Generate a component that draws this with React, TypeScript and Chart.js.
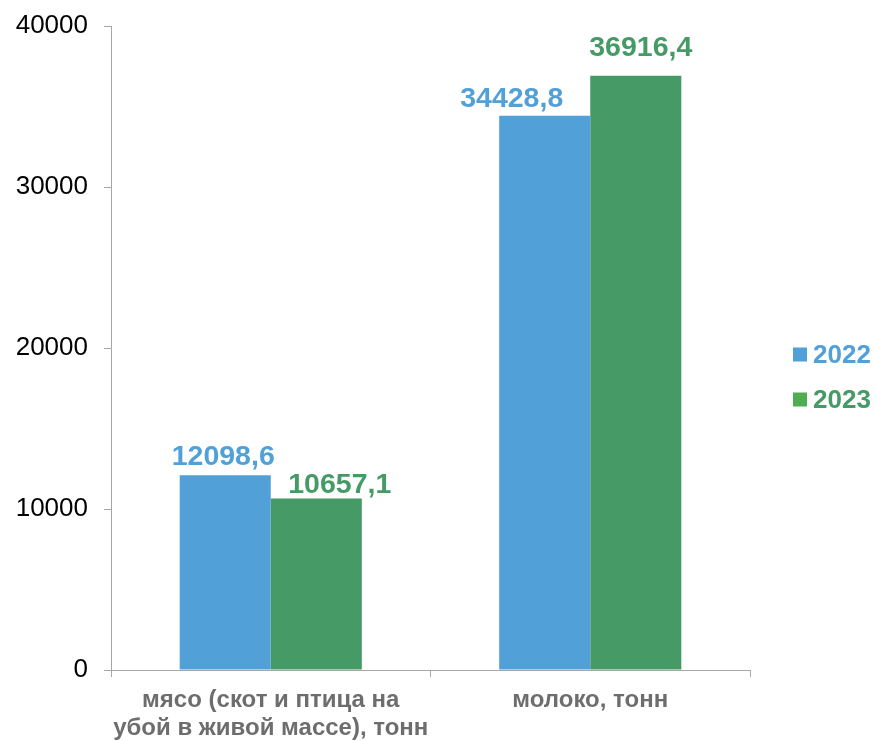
import React, { useEffect, useRef } from "react";
import { Chart, registerables } from "chart.js";

Chart.register(...registerables);

const categories: string[][] = [
  ["мясо (скот и птица на", "убой в живой массе), тонн"],
  ["молоко, тонн"],
];
const seriesNames = ["2022", "2023"];
const values2022 = [12098.6, 34428.8];
const values2023 = [10657.1, 36916.4];
const valueLabels2022 = ["12098,6", "34428,8"];
const valueLabels2023 = ["10657,1", "36916,4"];
const yTickValues = [0, 10000, 20000, 30000, 40000];

const BLUE = "#52A0D8";
const GREEN = "#459A66";
const GREEN_LEGEND = "#4EAD50";
const FONT = "'Liberation Sans', Arial, sans-serif";

// label placement tweaks (px) per dataset / category
const labelShiftX = [
  [-2, -33],
  [23.5, 5],
];
const labelGapY = [
  [10, 9],
  [5, 20],
];

const dataLabelsPlugin = {
  id: "dataLabelsCustom",
  afterDatasetsDraw(chart: any) {
    const ctx = chart.ctx;
    const texts = [valueLabels2022, valueLabels2023];
    const colors = [BLUE, GREEN];
    ctx.save();
    ctx.font = `bold 28.5px ${FONT}`;
    ctx.textAlign = "center";
    ctx.textBaseline = "alphabetic";
    chart.data.datasets.forEach((ds: any, di: number) => {
      const meta = chart.getDatasetMeta(di);
      meta.data.forEach((el: any, i: number) => {
        ctx.fillStyle = colors[di];
        ctx.fillText(texts[di][i], el.x + labelShiftX[di][i], el.y - labelGapY[di][i]);
      });
    });
    ctx.restore();
  },
};

const legendPlugin = {
  id: "legendCustom",
  afterDraw(chart: any) {
    const ctx = chart.ctx;
    const x = chart.chartArea.right + 43;
    const markers = [BLUE, GREEN_LEGEND];
    const textColors = [BLUE, GREEN];
    ctx.save();
    ctx.font = `bold 26px ${FONT}`;
    ctx.textAlign = "left";
    ctx.textBaseline = "middle";
    seriesNames.forEach((name, i) => {
      const cy = 354.5 + i * 45;
      ctx.fillStyle = markers[i];
      ctx.fillRect(x, cy - 7, 14, 14);
      ctx.fillStyle = textColors[i];
      ctx.fillText(name, x + 20, cy + 1);
    });
    ctx.restore();
  },
};

export default function App() {
  const ref = useRef<HTMLCanvasElement | null>(null);
  useEffect(() => {
    if (!ref.current) return;
    const chart = new Chart(ref.current, {
      type: "bar",
      data: {
        labels: categories,
        datasets: [
          {
            label: seriesNames[0],
            data: values2022,
            backgroundColor: BLUE,
            borderWidth: 0,
            categoryPercentage: 0.57,
            barPercentage: 1.0,
          },
          {
            label: seriesNames[1],
            data: values2023,
            backgroundColor: GREEN,
            borderWidth: 0,
            categoryPercentage: 0.57,
            barPercentage: 1.0,
          },
        ],
      },
      options: {
        responsive: false,
        animation: false,
        layout: { padding: { top: 26, right: 127, bottom: 0, left: 0 } },
        plugins: {
          legend: { display: false },
          tooltip: { enabled: false },
        },
        scales: {
          x: {
            grid: {
              offset: true,
              drawOnChartArea: false,
              drawTicks: true,
              tickLength: 7,
              color: "#a6a6a6",
            },
            border: { color: "#a6a6a6", width: 1 },
            ticks: {
              color: "#6d6d6d",
              font: { family: FONT, size: 24, weight: "bold", lineHeight: 1.17 },
              padding: 9,
              maxRotation: 0,
              autoSkip: false,
            },
            afterFit(scale: any) {
              scale.height = 71;
              scale.paddingLeft = 0;
              scale.paddingRight = 0;
            },
          },
          y: {
            min: yTickValues[0],
            max: yTickValues[yTickValues.length - 1],
            afterBuildTicks(scale: any) {
              scale.ticks = yTickValues.map((v) => ({ value: v }));
            },
            ticks: {
              color: "#000000",
              font: { family: FONT, size: 26, lineHeight: 1.0 },
              padding: 16,
              callback: (v: any) => String(v),
            },
            grid: {
              drawOnChartArea: false,
              drawTicks: true,
              tickLength: 7,
              color: "#a6a6a6",
            },
            border: { color: "#a6a6a6", width: 1 },
            afterFit(scale: any) {
              scale.width = 111;
              scale.paddingTop = 0;
              scale.paddingBottom = 0;
            },
          },
        },
      },
      plugins: [dataLabelsPlugin, legendPlugin],
    });
    return () => chart.destroy();
  }, []);
  return (
    <div style={{ position: "absolute", left: 0, top: 0, width: 877, height: 741, background: "#fff" }}>
      <canvas ref={ref} width={877} height={741} style={{ display: "block" }} />
    </div>
  );
}
